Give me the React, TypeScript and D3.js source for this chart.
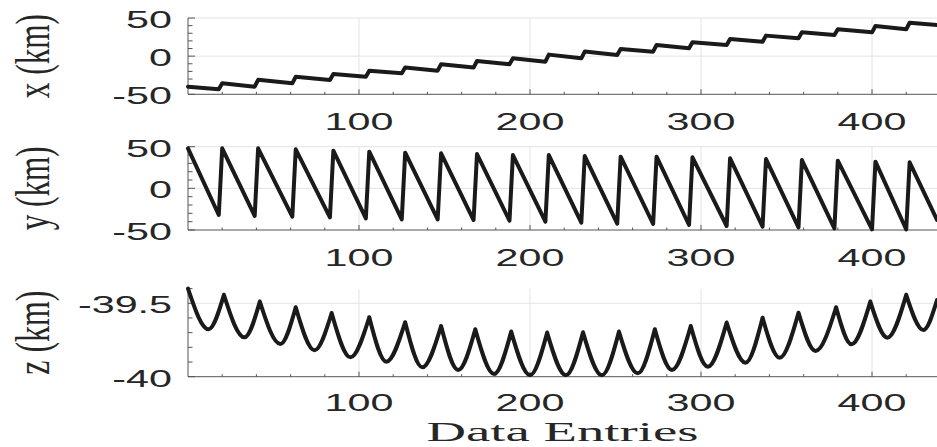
import React, { useEffect, useRef } from 'react';
import * as d3 from 'd3';

// entry axis
const entryDomain = [0, 438];
const entryTicks = [100, 200, 300, 400];

// the scan ramps end / restart at these entries (shared by x and y)
const rampEndEntries = [18, 39, 61, 83, 104, 125, 146, 167, 188, 209, 230, 251, 272, 293, 315, 336, 357, 378, 400, 420];
const rampStartEntries = [20, 41, 63, 85, 106, 127, 148, 169, 190, 211, 232, 253, 274, 295, 317, 338, 359, 380, 402, 422];

// x (km)
const xFirst = -40;
const xLast = 40.8;
const xAtRampEnd = [-43.5, -40, -35.6, -31.3, -26.9, -22.5, -19, -15, -10.7, -7.2, -2.8, 1.5, 5.9, 10.3, 14.6, 19, 23.4, 27.7, 31.2, 35.2];
const xAtRampStart = [-35.6, -31, -27, -23.4, -19, -15, -10.7, -6.4, -2.8, 2.0, 6.0, 9.4, 14.6, 18.1, 22.5, 26.9, 31.2, 35.2, 39.5, 43.8];

// y (km)
const yFirst = 48;
const yLast = -38;
const yAtRampEnd = [-32, -33.2, -34, -34.8, -36, -37.2, -37.2, -38, -38.8, -40, -41.2, -42.4, -42.8, -44, -45.2, -46, -46.8, -48, -49.2, -49.4];
const yAtRampStart = [48, 48, 46.8, 45.2, 44, 42.8, 42, 41.2, 40, 40, 38.8, 38, 38, 37.2, 36, 35.2, 34, 33.2, 32, 31.2];

// z (km): peaks (cusps) and rounded valleys
const zPeakEntries = [0, 21, 42, 63, 84, 106, 127, 148, 168, 189, 210, 231, 252, 273, 294, 315, 336, 357, 379, 399, 420, 438];
const zPeakValues = [-39.4, -39.443, -39.489, -39.527, -39.566, -39.595, -39.629, -39.655, -39.677, -39.693, -39.7, -39.698, -39.693, -39.677, -39.655, -39.632, -39.598, -39.564, -39.527, -39.489, -39.443, -39.478];
const zValleyEntries = [12, 33, 54, 74, 95, 116, 137, 158, 179, 200, 221, 242, 263, 283, 304, 326, 346, 367, 388, 409, 430];
const zValleyValues = [-39.677, -39.732, -39.777, -39.82, -39.868, -39.898, -39.936, -39.954, -39.982, -39.99, -39.99, -39.99, -39.977, -39.954, -39.932, -39.905, -39.871, -39.825, -39.779, -39.734, -39.682];

type Pt = [number, number];

function sawPoints(first: number, last: number, atEnd: number[], atStart: number[]): Pt[] {
  const pts: Pt[] = [[entryDomain[0], first]];
  rampEndEntries.forEach((e, i) => {
    pts.push([e, atEnd[i]]);
    pts.push([rampStartEntries[i], atStart[i]]);
  });
  pts.push([entryDomain[1], last]);
  return pts;
}

function drawChart(node: SVGSVGElement) {
  const svgWidth = 937;
  const svgHeight = 447;
  const plotLeft = 188;
  const plotRight = 937;
  const axisColor = '#555';
  const gridColor = '#e3e3e3';
  const lineColor = '#1a1a1a';
  const textColor = '#262626';
  const stretch = 1.72;

  const root = d3.select(node);
  root.selectAll('*').remove();
  root.attr('width', svgWidth).attr('height', svgHeight);

  root.append('rect').attr('width', svgWidth).attr('height', svgHeight).attr('fill', '#fff');

  const x = d3.scaleLinear().domain(entryDomain).range([plotLeft, plotRight]);

  const panels = [
    {
      label: 'x (km)', domain: [-50, 50], top: 18, bottom: 94.3, labelGap: 36,
      ticks: [-50, 0, 50], minor: d3.range(-50, 50.01, 10),
      arcs: [sawPoints(xFirst, xLast, xAtRampEnd, xAtRampStart)], curve: d3.curveLinear,
    },
    {
      label: 'y (km)', domain: [-50, 50], top: 146.7, bottom: 230, labelGap: 36,
      ticks: [-50, 0, 50], minor: d3.range(-50, 50.01, 10),
      arcs: [sawPoints(yFirst, yLast, yAtRampEnd, yAtRampStart)], curve: d3.curveLinear,
    },
    {
      label: 'z (km)', domain: [-40, -39.4], top: 288.6, bottom: 376.7, labelGap: 34.5,
      ticks: [-40, -39.5], minor: d3.range(-40, -39.39, 0.1),
      arcs: zValleyEntries.map((e, i) => [
        [zPeakEntries[i], zPeakValues[i]],
        [e, zValleyValues[i]],
        [zPeakEntries[i + 1], zPeakValues[i + 1]],
      ] as Pt[]),
      curve: d3.curveMonotoneX,
    },
  ];

  const xMinor = d3.range(20, entryDomain[1], 20);

  panels.forEach(p => {
    const y = d3.scaleLinear().domain(p.domain).range([p.bottom, p.top]);
    const g = root.append('g');

    // grid
    g.selectAll('.vgrid')
      .data(entryTicks)
      .enter()
        .append('line')
        .attr('x1', d => x(d)).attr('x2', d => x(d))
        .attr('y1', p.bottom).attr('y2', p.top)
        .attr('stroke', gridColor).attr('stroke-width', 1);

    g.selectAll('.hgrid')
      .data(p.ticks.filter(t => t !== p.domain[0]))
      .enter()
        .append('line')
        .attr('x1', plotLeft).attr('x2', plotRight)
        .attr('y1', d => y(d)).attr('y2', d => y(d))
        .attr('stroke', gridColor).attr('stroke-width', 1);

    // axes
    g.append('line')
      .attr('x1', plotLeft).attr('x2', plotRight)
      .attr('y1', p.bottom).attr('y2', p.bottom)
      .attr('stroke', axisColor).attr('stroke-width', 1);
    g.append('line')
      .attr('x1', plotLeft).attr('x2', plotLeft)
      .attr('y1', p.bottom).attr('y2', p.top)
      .attr('stroke', axisColor).attr('stroke-width', 1);

    // ticks (inward)
    g.selectAll('.xtick')
      .data(xMinor)
      .enter()
        .append('line')
        .attr('x1', d => x(d)).attr('x2', d => x(d))
        .attr('y1', p.bottom)
        .attr('y2', d => p.bottom - (d % 100 === 0 ? 5 : 2.5))
        .attr('stroke', axisColor).attr('stroke-width', 1);

    g.selectAll('.ytick')
      .data(p.minor)
      .enter()
        .append('line')
        .attr('y1', d => y(d)).attr('y2', d => y(d))
        .attr('x1', plotLeft)
        .attr('x2', d => plotLeft + (p.ticks.some(t => Math.abs(t - d) < 1e-6) ? 7 : 4.5))
        .attr('stroke', axisColor).attr('stroke-width', 1);

    // data
    const line = d3.line<Pt>()
      .x(d => x(d[0]))
      .y(d => y(d[1]))
      .curve(p.curve);

    g.append('path')
      .attr('d', p.arcs.map(a => line(a)).join(''))
      .attr('fill', 'none')
      .attr('stroke', lineColor)
      .attr('stroke-width', 4)
      .attr('stroke-linejoin', 'round')
      .attr('stroke-linecap', 'round');

    // tick labels
    g.selectAll('.xlab')
      .data(entryTicks)
      .enter()
        .append('text')
        .text(d => String(d))
        .attr('transform', d => `translate(${x(d)}, ${p.bottom + p.labelGap}) scale(${stretch}, 1)`)
        .attr('text-anchor', 'middle')
        .attr('font-family', '"Liberation Sans", Arial, sans-serif')
        .attr('font-size', '24px')
        .attr('fill', textColor);

    g.selectAll('.ylab')
      .data(p.ticks)
      .enter()
        .append('text')
        .text(d => String(d))
        .attr('transform', d => `translate(172, ${y(d) + 10}) scale(${stretch}, 1)`)
        .attr('text-anchor', 'end')
        .attr('font-family', '"Liberation Sans", Arial, sans-serif')
        .attr('font-size', '24px')
        .attr('fill', textColor);

    // axis label
    g.append('text')
      .text(p.label)
      .attr('transform', `translate(49, ${(p.top + p.bottom) / 2}) scale(1.7, 1) rotate(-90)`)
      .attr('text-anchor', 'middle')
      .attr('font-family', '"Liberation Serif", "Times New Roman", serif')
      .attr('font-size', '28px')
      .attr('textLength', 84)
      .attr('lengthAdjust', 'spacingAndGlyphs')
      .attr('fill', textColor);
  });

  root.append('text')
    .text('Data Entries')
    .attr('transform', `translate(${(plotLeft + plotRight) / 2}, 441) scale(1.7, 1)`)
    .attr('text-anchor', 'middle')
    .attr('font-family', '"Liberation Serif", "Times New Roman", serif')
    .attr('font-size', '28px')
    .attr('textLength', 160)
    .attr('lengthAdjust', 'spacingAndGlyphs')
    .attr('fill', textColor);
}

export default function App() {
  const ref = useRef<SVGSVGElement>(null);

  useEffect(() => {
    if (ref.current) drawChart(ref.current);
  }, []);

  return (
    <svg
      ref={ref}
      width={937}
      height={447}
      style={{ position: 'absolute', left: 0, top: 0, display: 'block' }}
    />
  );
}
